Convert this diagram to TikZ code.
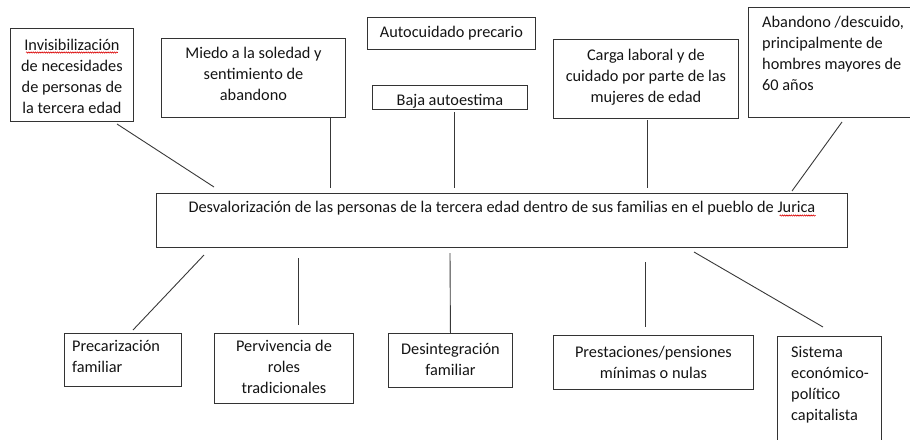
\documentclass[tikz,border=0pt]{standalone}
\usepackage{fontspec}
\setmainfont{Carlito}
\usetikzlibrary{decorations.pathmorphing,calc}
\begin{document}
\begin{tikzpicture}[x=1pt,y=-1pt,
  box/.style={draw=black!80, line width=0.9pt, rectangle, inner sep=0pt, anchor=north west},
  txt/.style={inner sep=0pt, font=\fontsize{16.3}{21}\selectfont, text=black!92},
  link/.style={draw=black!78, line width=0.9pt},
  squig/.style={draw=red!85!black, line width=0.6pt, decorate, decoration={snake, amplitude=0.6pt, segment length=2.2pt}}]
\useasboundingbox (0,0) rectangle (910,439);
\clip (0,0) rectangle (910,439);

% boxes
\node[box, minimum width=123, minimum height=93] (inv) at (10,28) {};
\node[box, minimum width=184, minimum height=79] (miedo) at (161,38) {};
\node[box, minimum width=168, minimum height=32] (auto) at (367,17) {};
\node[box, minimum width=155, minimum height=24] (baja) at (372,85) {};
\node[box, minimum width=185, minimum height=79] (carga) at (553,39) {};
\node[box, minimum width=170, minimum height=110] (aband) at (748,7) {};
\node[box, minimum width=691, minimum height=54] (main) at (156,193) {};
\node[box, minimum width=117, minimum height=53] (prec) at (64,333) {};
\node[box, minimum width=139, minimum height=70] (perv) at (214,333) {};
\node[box, minimum width=124, minimum height=54] (desi) at (388,333) {};
\node[box, minimum width=200, minimum height=54] (pres) at (553,335) {};
\node[box, minimum width=104, minimum height=120] (sist) at (777,336) {};

% texts
\node[txt, anchor=north, align=center] (inv-t) at ($(inv.north)+(0,11)$) {Invisibilización\\de necesidades\\de personas de\\la tercera edad};
\node[txt, anchor=north, align=center] (miedo-t) at ($(miedo.north)+(0,9)$) {Miedo a la soledad y\\sentimiento de\\abandono};
\node[txt, anchor=north, align=center] (auto-t) at ($(auto.north)+(0,9)$) {Autocuidado precario};
\node[txt, anchor=north, align=center] (baja-t) at ($(baja.north)+(0,9)$) {Baja autoestima};
\node[txt, anchor=north, align=center] (carga-t) at ($(carga.north)+(0,10)$) {Carga laboral y de\\cuidado por parte de las\\mujeres de edad};
\node[txt, anchor=north west, align=left] (aband-t) at ($(aband.north west)+(14,9)$) {Abandono /descuido,\\principalmente de\\hombres mayores de\\60 años};
\node[txt, anchor=north, align=center] (main-t) at ($(main.north)+(0,8)$) {Desvalorización de las personas de la tercera edad dentro de sus familias en el pueblo de Jurica};
\node[txt, anchor=north west, align=left] (prec-t) at ($(prec.north west)+(8,7)$) {Precarización\\familiar};
\node[txt, anchor=north, align=center] (perv-t) at ($(perv.north)+(0,7)$) {Pervivencia de\\roles\\tradicionales};
\node[txt, anchor=north, align=center] (desi-t) at ($(desi.north)+(0,10)$) {Desintegración\\familiar};
\node[txt, anchor=north, align=center] (pres-t) at ($(pres.north)+(0,11)$) {Prestaciones/pensiones\\mínimas o nulas};
\node[txt, anchor=north west, align=left] (sist-t) at ($(sist.north west)+(14,10)$) {Sistema\\económico-\\político\\capitalista};

% spell-check squiggles
\coordinate (sq1a) at ($(inv-t.north)+(-46,13.5)$); \coordinate (sq1b) at ($(inv-t.north)+(46,13.5)$);
\draw[squig] (sq1a) -- (sq1b);
\coordinate (sq2a) at ($(main-t.base east)+(-36,3)$); \coordinate (sq2b) at ($(main-t.base east)+(0,3)$);
\draw[squig] (sq2a) -- (sq2b);

% connectors (top)
\coordinate (l1a) at (117,124); \coordinate (l1b) at (214,187);
\coordinate (l2a) at (330,118); \coordinate (l2b) at (330,188);
\coordinate (l3a) at (454,112); \coordinate (l3b) at (454,188);
\coordinate (l4a) at (647,120); \coordinate (l4b) at (647,188);
\coordinate (l5a) at (842,122); \coordinate (l5b) at (792,191);
\draw[link] (l1a) -- (l1b);
\draw[link] (l2a) -- (l2b);
\draw[link] (l3a) -- (l3b);
\draw[link] (l4a) -- (l4b);
\draw[link] (l5a) -- (l5b);
% connectors (bottom)
\coordinate (b1a) at (204,255); \coordinate (b1b) at (133,330);
\coordinate (b2a) at (298,258); \coordinate (b2b) at (298,325);
\coordinate (b3a) at (450,253);
\coordinate (b4a) at (645,262); \coordinate (b4b) at (645,327);
\coordinate (b5a) at (694,252); \coordinate (b5b) at (823,327);
\draw[link] (b1a) -- (b1b);
\draw[link] (b2a) -- (b2b);
\draw[link] (b3a) -- (desi.north);
\draw[link] (b4a) -- (b4b);
\draw[link] (b5a) -- (b5b);
\end{tikzpicture}
\end{document}
